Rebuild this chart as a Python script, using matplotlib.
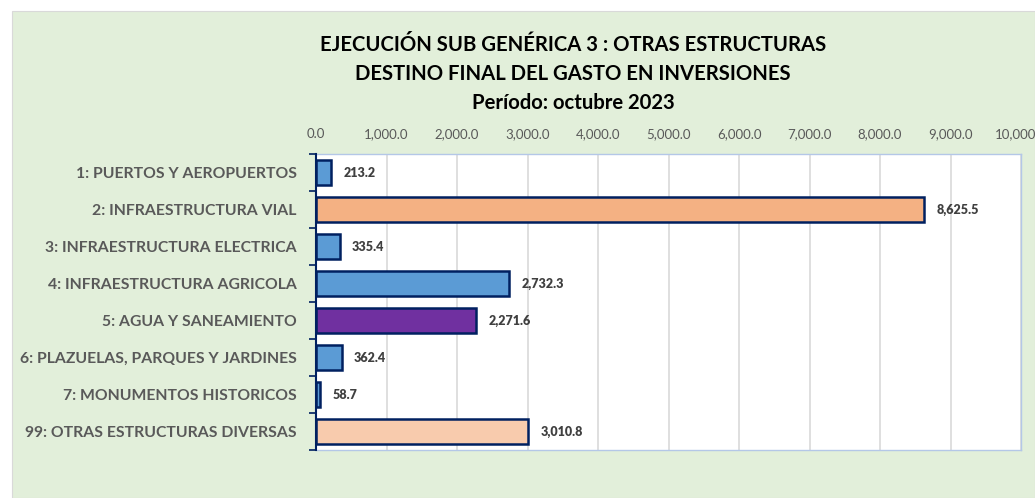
import matplotlib
matplotlib.use("Agg")
import matplotlib.pyplot as plt
from matplotlib.patches import Rectangle

plt.rcParams['font.family'] = ['Lato', 'DejaVu Sans']

# data
categories = ['1: PUERTOS Y AEROPUERTOS', '2: INFRAESTRUCTURA VIAL',
              '3: INFRAESTRUCTURA ELECTRICA', '4: INFRAESTRUCTURA AGRICOLA',
              '5: AGUA Y SANEAMIENTO', '6: PLAZUELAS, PARQUES Y JARDINES',
              '7: MONUMENTOS HISTORICOS', '99: OTRAS ESTRUCTURAS DIVERSAS']
values = [213.2, 8625.5, 335.4, 2732.3, 2271.6, 362.4, 58.7, 3010.8]
bar_colors = ['#5B9BD5', '#F4B183', '#5B9BD5', '#5B9BD5',
              '#7030A0', '#5B9BD5', '#5B9BD5', '#F8CBAD']
ticks = [0, 1000, 2000, 3000, 4000, 5000, 6000, 7000, 8000, 9000, 10000]
title = ('EJECUCIÓN SUB GENÉRICA 3 : OTRAS ESTRUCTURAS\n'
         'DESTINO FINAL DEL GASTO EN INVERSIONES\n'
         'Período: octubre 2023')

fig = plt.figure(figsize=(10.35, 4.98), dpi=100)
fig.patch.set_facecolor('white')
# green chart area (leaves a white strip top/left)
bg = Rectangle((12 / 1035, 0), 1 - 12 / 1035, (498 - 11) / 498,
               transform=fig.transFigure, facecolor='#E2EFDA',
               edgecolor='#D9D9D9', linewidth=0.8, zorder=-10)
fig.patches.append(bg)

ax = fig.add_axes([316 / 1035, 48 / 498, 705 / 1035, 296 / 498])
ax.set_facecolor('white')

y = list(range(len(categories)))
ax.barh(y, values, height=0.7, color=bar_colors, edgecolor='#002060',
        linewidth=1.8, zorder=3)
ax.set_ylim(len(categories) - 0.5, -0.5)
ax.set_xlim(0, 10000)

ax.set_yticks(y)
ax.set_yticklabels(categories, fontsize=11.3, fontweight='bold', color='#595959')
ax.tick_params(axis='y', length=0, pad=14)
# category boundary ticks
ax.set_yticks([i - 0.5 for i in range(len(categories) + 1)], minor=True)
ax.tick_params(axis='y', which='minor', length=5, width=1.2, color='#002060',
               direction='out')

ax.xaxis.tick_top()
ax.set_xticks(ticks)
ax.set_xticklabels(['{:,.1f}'.format(t) for t in ticks], fontsize=9.5,
                   color='#595959')
ax.tick_params(axis='x', length=0, pad=10)
ax.grid(axis='x', color='#D9D9D9', linewidth=1.2, zorder=0)

for s in ['top', 'right', 'bottom']:
    ax.spines[s].set_color('#B4C7E7')
    ax.spines[s].set_linewidth(1.0)
ax.spines['left'].set_color('#002060')
ax.spines['left'].set_linewidth(1.5)
ax.spines['left'].set_zorder(4)

for yi, v in zip(y, values):
    ax.annotate('{:,.1f}'.format(v), (v, yi), xytext=(9, 0),
                textcoords='offset points', va='center', ha='left',
                fontsize=9, fontweight='heavy', color='#404040')

fig.text(573 / 1035, 1 - 74 / 498, title, ha='center', va='center',
         fontsize=14.6, fontweight='bold', color='#000000', linespacing=1.55)

fig.savefig('out.png', dpi=100)
